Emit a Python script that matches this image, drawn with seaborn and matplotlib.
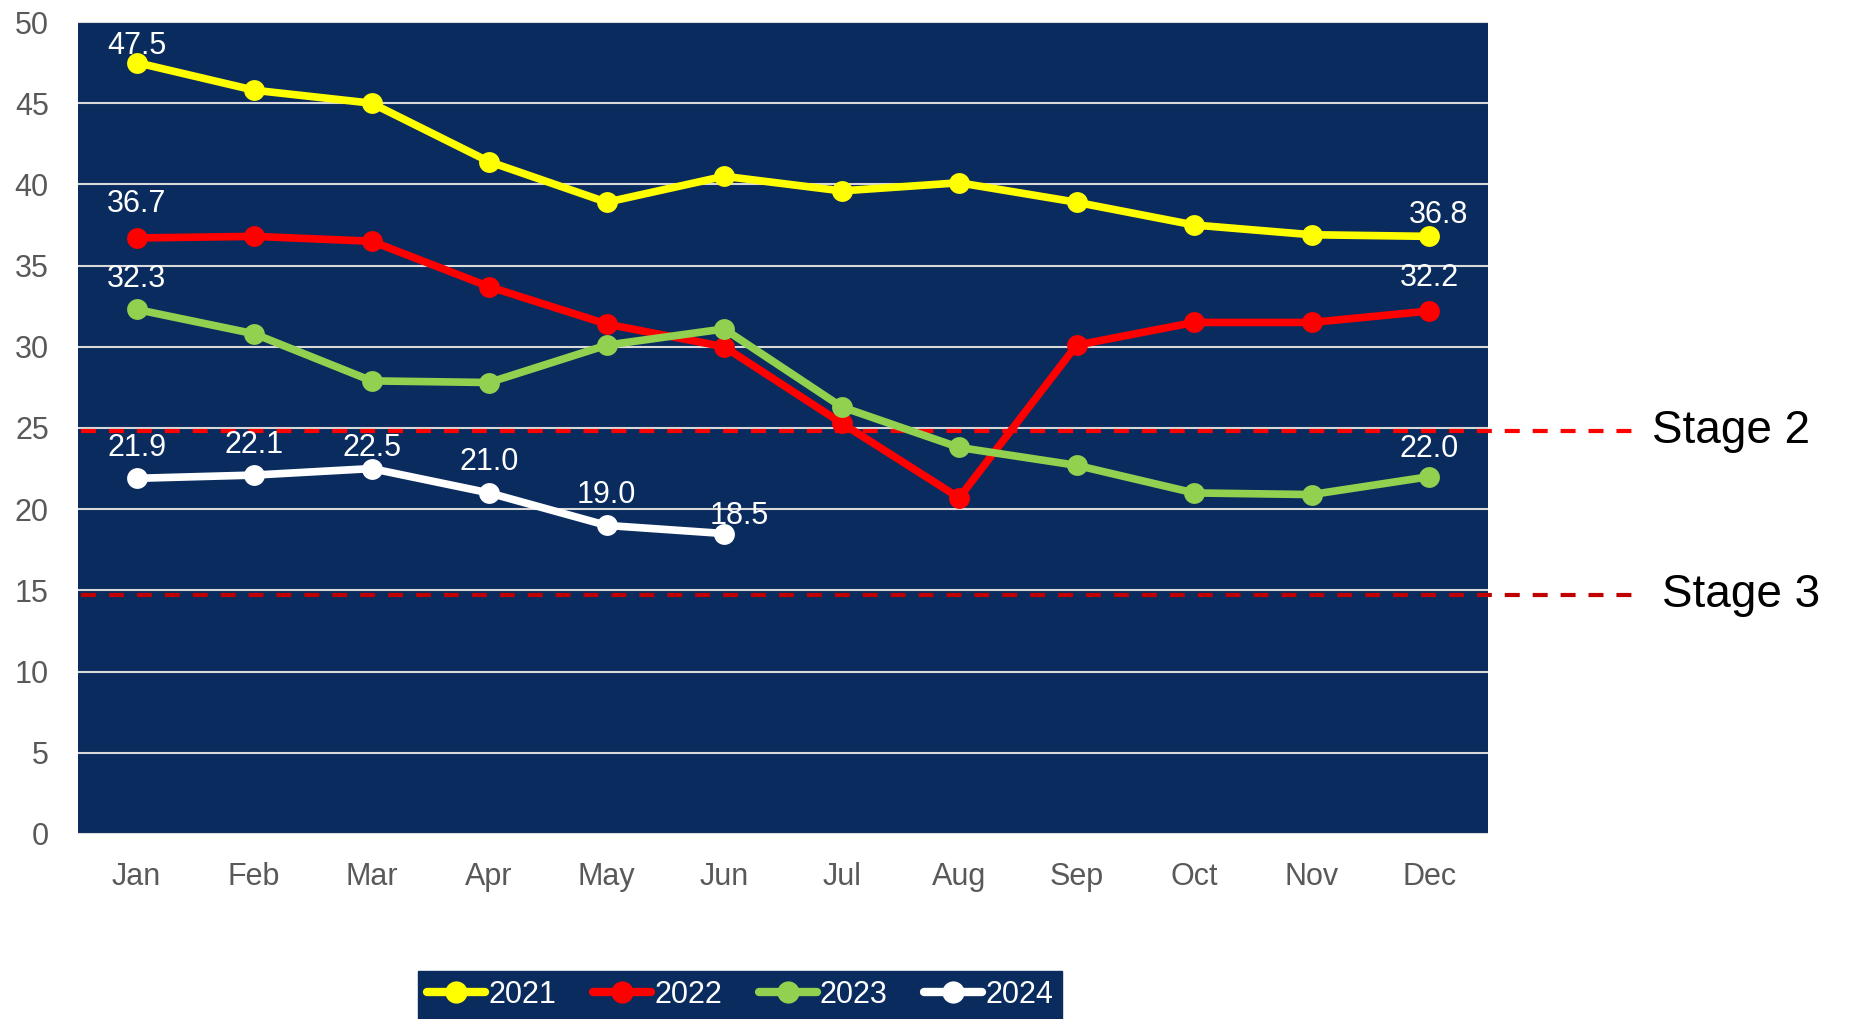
import matplotlib
matplotlib.use("Agg")
import matplotlib.pyplot as plt
import seaborn as sns
import pandas as pd
from matplotlib.lines import Line2D

months = ["Jan", "Feb", "Mar", "Apr", "May", "Jun", "Jul", "Aug", "Sep", "Oct", "Nov", "Dec"]
years = ["2021", "2022", "2023", "2024"]
v2021 = [47.5, 45.8, 45.0, 41.4, 38.9, 40.5, 39.6, 40.1, 38.9, 37.5, 36.9, 36.8]
v2022 = [36.7, 36.8, 36.5, 33.7, 31.4, 30.0, 25.3, 20.7, 30.1, 31.5, 31.5, 32.2]
v2023 = [32.3, 30.8, 27.9, 27.8, 30.1, 31.1, 26.3, 23.8, 22.7, 21.0, 20.9, 22.0]
v2024 = [21.9, 22.1, 22.5, 21.0, 19.0, 18.5]
stage_names = ["Stage 2", "Stage 3"]
stage_values = [24.8, 14.7]

colors = {"2021": "#FFFF00", "2022": "#FF0000", "2023": "#92D050", "2024": "#FFFFFF"}
stage_colors = ["#FF0000", "#C00000"]
navy = "#092B5E"

series = {"2021": v2021, "2022": v2022, "2023": v2023, "2024": v2024}
rows = []
for y in years:
    for i, v in enumerate(series[y]):
        rows.append({"month": i, "value": v, "year": y})
df = pd.DataFrame(rows)

sns.set_theme(style="white")
plt.rcParams["font.family"] = ["Liberation Sans", "DejaVu Sans"]

fig = plt.figure(figsize=(18.6, 10.19), dpi=100)
ax = fig.add_axes([0.0419, 0.1816, 0.758, 0.7968])
ax.set_facecolor(navy)

# gridlines
for g in range(0, 51, 5):
    ax.axhline(g, color="#D9D9D9", lw=1.5, zorder=1)

# stage lines
stage_text_x = [12.9, 12.98]
for name, val, c, tx in zip(stage_names, stage_values, stage_colors, stage_text_x):
    ax.plot([-0.47, 12.73], [val, val], ls=(0, (3.6, 3.1)), color=c, lw=3,
            clip_on=False, zorder=2)
    ax.text(tx, val, name, fontsize=33, color="black", va="center", ha="left",
            clip_on=False)

sns.lineplot(data=df, x="month", y="value", hue="year", palette=colors,
             marker="o", markersize=15, markeredgewidth=0, linewidth=5.5,
             ax=ax, legend=False, zorder=3)

# data labels: (month index, pixel offset x, pixel offset y of baseline)
labels = {
    "2021": [(0, 0, 9), (11, 9, 13)],
    "2022": [(0, 0, 26), (11, 0, 25)],
    "2023": [(0, 0, 22), (11, 0, 20)],
    "2024": [(0, 0, 22), (1, 0, 22), (2, 0, 13), (3, 0, 23), (4, 0, 22), (5, 15, 10)],
}
for y in years:
    for i, ox, oy in labels[y]:
        v = series[y][i]
        ax.annotate(f"{v:.1f}", (i, v), xytext=(ox, oy), textcoords="offset pixels",
                    ha="center", va="baseline", fontsize=22, color="white", zorder=4)

ax.set_xlim(-0.5, 11.5)
ax.set_ylim(0, 50)
ax.set_xticks(range(12))
ax.set_xticklabels(months)
ax.set_yticks(range(0, 51, 5))
ax.tick_params(axis="both", length=0, labelsize=22, labelcolor="#595959")
ax.tick_params(axis="x", pad=20)
ax.tick_params(axis="y", pad=21)
ax.set_xlabel("")
ax.set_ylabel("")
for s in ax.spines.values():
    s.set_visible(False)

handles = [Line2D([0], [0], color=colors[y], lw=6, marker="o", markersize=16,
                  markeredgewidth=0, solid_capstyle="round") for y in years]
leg = fig.legend(handles, years, loc="lower center", bbox_to_anchor=(0.398, 0.0),
                 ncol=4, frameon=True, fancybox=False, facecolor=navy, edgecolor=navy,
                 fontsize=22, handlelength=1.9, handletextpad=0.1, columnspacing=1.2,
                 borderpad=0.3, borderaxespad=0)
leg.get_frame().set_alpha(1)
for t in leg.get_texts():
    t.set_color("white")

fig.savefig("out.png", dpi=100)
